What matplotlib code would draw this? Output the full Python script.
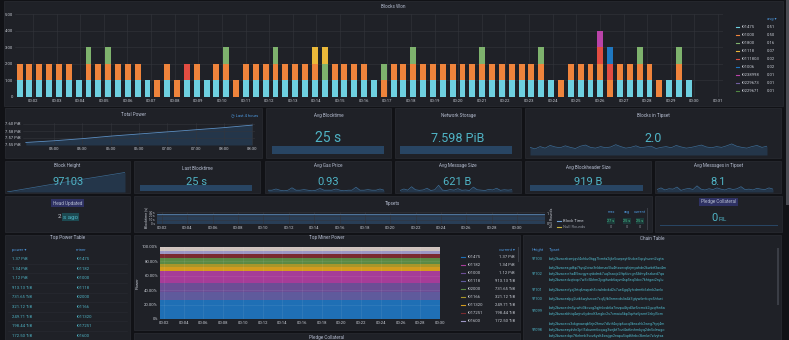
import matplotlib
matplotlib.use("Agg")
import matplotlib.pyplot as plt
from matplotlib.patches import Rectangle

# ---------------- data ----------------
# winners of each epoch in "Blocks Won" (one letter per miner)
blocks_won = ["CO", "CO", "CO", "CO", "CO", "CO", "C", "COG", "CO", "COG",
              "CO", "CO", "CO", "C", "O", "CO", "O", "CR", "CO", "C",
              "CO", "COG", "O", "CO", "CO", "CO", "COG", "CO", "CO", "CO",
              "COY", "CGY", "CO", "CO", "CO", "CO", "C", "OG", "CO",
              "CO", "COG", "CO", "CO", "CO", "CO", "CO", "CO", "COG", "CO",
              "CO", "CO", "CO", "CO", "COG", "C", "O", "CO", "CO", "CO",
              "CORM", "ORB", "CO", "CO", "COG", "CO", "O", "C", "COG", "C"]
first_block_s = 86
block_interval_s = 25
won_colors = {"C": "#6ed0e0", "O": "#ef843c", "R": "#e24d42", "G": "#7eb26d",
              "Y": "#eab839", "B": "#1f78c1", "M": "#ba43a9"}
stack_order = ["C", "O", "R", "G", "Y", "B", "M"]
won_legend_miners = ["t01475", "t01000", "t01800", "t01118", "t0111803",
                     "t01006", "t0238998", "t0229673", "t0229671"]
won_legend_avg = ["0.51", "0.50", "0.16", "0.07", "0.02", "0.02", "0.01", "0.01", "0.01"]
won_legend_colors = ["#6ed0e0", "#ef843c", "#7eb26d", "#eab839", "#e24d42",
                     "#1f78c1", "#ba43a9", "#705da0", "#508642"]

power_hours = [4.5, 5.0, 5.5, 6.0, 6.5, 7.0, 7.5, 8.0, 8.5]
power_pib = [7.556, 7.560, 7.565, 7.571, 7.576, 7.581, 7.586, 7.591, 7.597]

block_height = [96560, 96700, 96840, 96970, 97103]
tipset_blocks = [2.0, 1.6, 2.2, 1.8, 2.5, 2.1, 1.9, 2.4, 2.0, 1.7, 2.3, 2.6, 2.0, 1.8,
                 2.2, 1.9, 2.1, 2.7, 2.2, 1.8, 2.0, 2.4, 1.9, 2.1, 2.3, 1.7, 2.0, 2.2,
                 1.9, 2.5, 2.1, 1.8, 2.0, 2.3, 2.6, 2.1, 1.9, 2.2, 2.0, 2.4, 2.9, 2.3,
                 2.0, 1.8, 2.2, 2.5, 2.0, 2.3]
gas_price = [0.93, 0.93, 0.95, 0.93, 0.92, 0.93, 0.97, 0.93, 0.93, 0.94, 0.93, 0.92,
             0.93, 0.96, 0.93, 0.93, 0.93, 0.95, 0.93, 0.92, 0.93, 0.93, 0.98, 0.93,
             0.93, 0.94, 0.93, 0.93, 0.95, 0.93]
msg_size = [600, 640, 610, 700, 620, 605, 615, 660, 600, 620, 740, 610, 600, 625,
            610, 650, 605, 615, 600, 690, 620, 610, 600, 630, 615, 660, 605, 620,
            610, 621]
msgs_in_tipset = [8.0, 8.4, 7.9, 8.2, 8.1, 8.6, 7.8, 8.1, 8.3, 8.0, 8.9, 8.1, 7.9, 8.2,
                  8.0, 8.4, 8.1, 7.9, 8.3, 8.0, 8.2, 8.7, 8.0, 8.1, 7.9, 8.3, 8.1, 8.0,
                  8.4, 8.1]

tipset_minutes = [1.6, 6, 10, 14, 18, 22, 26, 30, 32.2]
tipset_time_s = [25, 25, 25, 25, 25, 25, 25, 25, 25]
null_rounds = [0, 0, 0, 0, 0, 0, 0, 0, 0]

top_power = ["1.37 PiB", "1.34 PiB", "1.12 PiB", "913.13 TiB", "731.65 TiB",
             "321.12 TiB", "249.71 TiB", "198.44 TiB", "172.50 TiB"]
top_miners = ["t01475", "t01182", "t01000", "t01118", "t02000",
              "t01166", "t011320", "t017251", "t01600"]

# share of each band in "Top Miner Power", bottom to top
band_share = [27, 10, 13, 17, 5, 5, 8, 5, 5, 5]
band_colors = ["#1f6fb5", "#5f5a9c", "#6c4d95", "#a63c98", "#d39b1e",
               "#a8962a", "#5a8a45", "#7a2a2f", "#9d97c4", "#cfc3bd"]
band_minutes = [1.6, 30.0]
miner_legend_colors = ["#1f6fb5", "#a63c98", "#6c4d95", "#5f5a9c", "#5a8a45",
                       "#a8962a", "#d39b1e", "#7a2a2f", "#9d97c4"]

chain_heights = ["97103", "97102", "97101", "97100", "97099", "97098"]
chain_tipsets = [
    ["bafy2bzacebxmjqvl4ohkz3tqg7lvmfa2ijkr5xwpsyt6hdoe3qcyhunm2vgta"],
    ["bafy2bzaceagd6p7hyq2ciwr3nkbmzo5lu4ftxsevq6rjmyahde2kwbtf3ax4m",
     "bafy2bzacecrhz4l5wvgyeqnbdmk7uq3saojx2ftp6ivcgn5lbhry4ezkwd7qa",
     "bafy2bzacedvqtoqv7w3c5lkhm2jxgifunb6ayzr4sp5eq3doc7khtgwi2nylu"],
    ["bafy2bzacecfyxj3rtq6mzpah5oiwlnbvkd2s7ue4gq3yfcdrmtb6zhnk2aelo"],
    ["bafy2bzacealpg2utk6wyhzcoe7xq5jfb3nmrvdslia4k3gtyw6mbqrx5hfuei"],
    ["bafy2bzacedm5yrwht3kcvxg2qjfnlosb6a7iezpu4tyd3w5rcmxk2gvqfhn6a",
     "bafy2bzacebhtq4wjnv6ydeolf3zrgkc2s7xmaiu5bp3qvhz6jwrnt2ekyl5cm"],
    ["bafy2bzacecs3xkgnawqb5rje2hmz7dlvtf4oyip6ucq3bnxshk2weg7tyrj4m",
     "bafy2bzaceaydvhr2ptl5xkunm6oqwg3sejbf7czi4at6rvhmkyq2dn5xlewgo",
     "bafy2bzacedqo7fkrhmb3vcz6yslt4xwjgn2eapu5iqd6hrbc3kmlw7zfvytsa"],
]

# ---------------- style ----------------
W, H = 789, 340
BG = "#111216"
PANEL = "#1f2127"
EDGE = "#2a2c33"
TITLE = "#b4bccf"
TICK = "#c8ccd4"
VALUE = "#4fb4c6"
LINK = "#4c94d8"
GRID = "#33353c"
SPARK_LINE = "#3c6b94"
SPARK_FILL = "#24364a"
GAUGE = "#284563"

plt.rcParams["font.family"] = ["Roboto", "DejaVu Sans"]

fig = plt.figure(figsize=(W / 100, H / 100), dpi=100)
fig.patch.set_facecolor(BG)


def ftext(x, y, s, **kw):
    return fig.text(x / W, 1 - y / H, s, **kw)


def box(x0, y0, x1, y1, color, z=-10, ec="none", lw=0):
    fig.add_artist(Rectangle((x0 / W, 1 - y1 / H), (x1 - x0) / W, (y1 - y0) / H,
                             transform=fig.transFigure, facecolor=color,
                             edgecolor=ec, lw=lw, zorder=z))


def panel(x0, y0, x1, y1, title, ty=None, highlight=False):
    box(x0, y0, x1, y1, PANEL, ec=EDGE, lw=0.5)
    kw = {}
    if highlight:
        kw["bbox"] = dict(boxstyle="square,pad=0.35", fc="#2e3163", ec="none")
    ftext((x0 + x1) / 2, ty if ty else y0 + 7, title, ha="center", va="center",
          fontsize=3.3, color=TITLE, **kw)


def px_axes(x0, y0, x1, y1):
    ax = fig.add_axes([x0 / W, 1 - y1 / H, (x1 - x0) / W, (y1 - y0) / H])
    ax.set_facecolor("none")
    for s in ax.spines.values():
        s.set_visible(False)
    ax.tick_params(colors=TICK, labelsize=3, length=0, pad=1.5)
    return ax


def sparkline(x0, y0, x1, y1, values, lo, hi):
    ax = px_axes(x0, y0, x1, y1)
    xs = list(range(len(values)))
    ax.fill_between(xs, lo, values, color=SPARK_FILL, lw=0)
    ax.plot(xs, values, color=SPARK_LINE, lw=0.5)
    ax.set_xlim(0, len(values) - 1)
    ax.set_ylim(lo, hi)
    ax.axis("off")


def stat(x0, y0, x1, y1, title, value, vy, size):
    panel(x0, y0, x1, y1, title)
    ftext((x0 + x1) / 2, vy, value, ha="center", va="center", fontsize=size, color=VALUE)


# page scrollbar
box(785.5, 0, 788.5, 205, "#4a4c53", z=-5)

# ---------------- Blocks Won ----------------
panel(4, 1, 783, 106, "Blocks Won", ty=6)
ax = px_axes(15, 14, 723, 97)
times = [(first_block_s + i * block_interval_s) / 60 for i in range(len(blocks_won))]
bottoms = [0] * len(blocks_won)
for code in stack_order:
    h = [1 if code in w else 0 for w in blocks_won]
    ax.bar(times, h, width=15 / 60, bottom=bottoms, color=won_colors[code], lw=0, zorder=2)
    bottoms = [b + v for b, v in zip(bottoms, h)]
ax.set_xlim(1.24, 31.21)
ax.set_ylim(0, 5)
ax.set_xticks(range(2, 32))
ax.set_xticklabels([f"00:{m:02d}" for m in range(2, 32)])
ax.set_yticks(range(6))
ax.set_yticklabels(["0", "1.00", "2.00", "3.00", "4.00", "5.00"])
ax.grid(color=GRID, lw=0.4, zorder=0)

ftext(772, 19, "avg \u25be", ha="center", va="center", fontsize=3, color=LINK)
for i, (m, a, c) in enumerate(zip(won_legend_miners, won_legend_avg, won_legend_colors)):
    y = 27 + i * 8
    fig.add_artist(plt.Line2D([735.5 / W, 739 / W], [1 - y / H] * 2, color=c, lw=0.8))
    ftext(741, y, m, ha="left", va="center", fontsize=3, color=TICK)
    ftext(775, y, a, ha="right", va="center", fontsize=3, color=TICK)

# ---------------- row 1 ----------------
panel(5, 108, 262, 158, "Total Power", ty=115)
ftext(258, 115, "\u25f7 Last 4 hours", ha="right", va="center", fontsize=3, color=LINK)
ax = px_axes(23, 123, 255, 145)
ax.fill_between(power_hours, 7.55, power_pib, color=SPARK_FILL, lw=0)
ax.plot(power_hours, power_pib, color="#5b8fc4", lw=0.6)
ax.set_xlim(4.45, 8.55)
ax.set_ylim(7.55, 7.602)
ax.set_xticks([5.0, 5.5, 6.0, 6.5, 7.0, 7.5, 8.0, 8.5])
ax.set_xticklabels(["05:00", "05:30", "06:00", "06:30", "07:00", "07:30", "08:00", "08:30"])
ax.set_yticks([7.55, 7.567, 7.583, 7.60])
ax.set_yticklabels(["7.55 PiB", "7.57 PiB", "7.58 PiB", "7.60 PiB"])
ax.grid(color=GRID, lw=0.4)

stat(266, 108, 391, 158, "Avg Blocktime", "25 s", 138, 10)
box(272, 146, 384, 154, GAUGE, z=-5)
stat(395, 108, 521, 158, "Network Storage", "7.598 PiB", 138, 9)
box(400, 146, 512, 154, GAUGE, z=-5)
stat(525, 108, 781, 158, "Blocks in Tipset", "2.0", 138, 9)
sparkline(530, 142, 767, 155, tipset_blocks, 0, 3.4)

# ---------------- row 2 ----------------
panel(5, 161, 130, 193, "Block Height", ty=165)
sparkline(7, 171, 125, 192, block_height, block_height[0], block_height[-1] + 40)
ftext(68, 182, "97103", ha="center", va="center", fontsize=8, color=VALUE)
stat(134, 161, 260, 193, "Last Blocktime", "25 s", 182, 8)
box(140, 185, 252, 191, GAUGE, z=-5)
panel(265, 161, 391, 193, "Avg Gas Price", ty=165)
sparkline(268, 183, 384, 192, gas_price, 0.90, 1.05)
ftext(328, 182, "0.93", ha="center", va="center", fontsize=8, color=VALUE)
panel(395, 161, 521, 193, "Avg Message Size", ty=165)
sparkline(400, 183, 512, 192, msg_size, 560, 800)
ftext(457, 182, "621 B", ha="center", va="center", fontsize=8, color=VALUE)
stat(525, 161, 651, 193, "Avg Blockheader Size", "919 B", 182, 8)
box(530, 185, 643, 191, GAUGE, z=-5)
panel(655, 161, 781, 193, "Avg Messages in Tipset", ty=165)
sparkline(657, 183, 773, 192, msgs_in_tipset, 7.4, 9.6)
ftext(718, 182, "8.1", ha="center", va="center", fontsize=8, color=VALUE)

# ---------------- row 3 ----------------
panel(5, 196, 130, 232, "Head Updated", ty=203, highlight=True)
ftext(61, 217, "2", ha="right", va="center", fontsize=4.5, color=TICK)
ftext(63, 217, "s ago", ha="left", va="center", fontsize=4.5, color=VALUE,
      bbox=dict(boxstyle="square,pad=0.2", fc="#1d4a52", ec="none"))

panel(134, 196, 652, 232, "Tipsets", ty=203)
ax = px_axes(157, 212, 545, 223.5)
ax.fill_between(tipset_minutes, 0, tipset_time_s, color="#2c4663", alpha=0.8, lw=0)
ax.plot(tipset_minutes, tipset_time_s, color="#6e9fd0", lw=0.4)
ax.set_xlim(1.61, 32.2)
ax.set_ylim(0, 30)
ax.set_xticks(range(2, 31, 2))
ax.set_xticklabels([f"00:{m:02d}" for m in range(2, 31, 2)])
ax.set_yticks([0, 10, 20, 30])
ax.set_yticklabels(["0 s", "10 s", "20 s", "30 s"], fontsize=2.2)
ax.grid(color=GRID, lw=0.4)
ax.set_ylabel("Blocktime (s)", fontsize=2.6, color=TICK, labelpad=1)
ax2 = ax.twinx()
for s in ax2.spines.values():
    s.set_visible(False)
ax2.plot(tipset_minutes, null_rounds, color="#c9b53a", lw=0.6)
ax2.set_ylim(0, 1.2)
ax2.set_yticks([0, 1])
ax2.tick_params(colors=TICK, labelsize=2.6, length=0, pad=1)
ax2.set_ylabel("Null Rounds", fontsize=2.6, color=TICK, labelpad=1)

for x, lab in [(611, "max"), (627, "avg"), (640, "current")]:
    ftext(x, 212, lab, ha="center", va="center", fontsize=2.8, color=LINK)
fig.add_artist(plt.Line2D([557 / W, 561 / W], [1 - 221 / H] * 2, color="#6e9fd0", lw=0.8))
ftext(563, 221, "Block Time", ha="left", va="center", fontsize=3, color=TICK)
for x, v in [(611, "27 s"), (627, "25 s"), (640, "25 s")]:
    ftext(x, 221, v, ha="center", va="center", fontsize=2.8, color="#49c08a",
          bbox=dict(boxstyle="square,pad=0.2", fc="#1c3b3a", ec="none"))
fig.add_artist(plt.Line2D([557 / W, 561 / W], [1 - 227 / H] * 2, color="#c9b53a", lw=0.8))
ftext(563, 227, "Null Rounds", ha="left", va="center", fontsize=3, color="#8a8f99")
for x in [611, 627, 640]:
    ftext(x, 227, "0", ha="center", va="center", fontsize=2.8, color="#8a8f99")
box(646.5, 208, 648, 230, "#3a3d45", z=-5)

panel(655, 196, 782, 232, "Pledge Collateral", ty=202, highlight=True)
ftext(718, 218, "0", ha="right", va="center", fontsize=8, color=VALUE)
ftext(718.5, 219.5, "FIL", ha="left", va="center", fontsize=4.5, color=VALUE)
box(660, 224.5, 778, 225.5, GAUGE, z=-5)

# ---------------- row 4 ----------------
panel(5, 235, 130, 345, "Top Power Table", ty=238)
ftext(12, 250, "power \u25be", ha="left", va="center", fontsize=3, color=LINK)
ftext(76, 250, "miner", ha="left", va="center", fontsize=3, color=LINK)
for i, (p, m) in enumerate(zip(top_power, top_miners)):
    y = 259 + i * 9.6
    ftext(12, y, p, ha="left", va="center", fontsize=3, color=VALUE)
    ftext(76, y, m, ha="left", va="center", fontsize=3, color=VALUE)
    fig.add_artist(plt.Line2D([8 / W, 127 / W], [1 - (y + 4.8) / H] * 2, color="#292b32", lw=0.4))

panel(134, 235, 520, 330, "Top Miner Power", ty=238)
ax = px_axes(160, 247, 440, 319)
ax.stackplot(band_minutes, *[[v, v] for v in band_share], colors=band_colors, lw=0)
ax.set_xlim(1.6, 30.0)
ax.set_ylim(0, 100)
ax.set_xticks(range(2, 31, 2))
ax.set_xticklabels([f"00:{m:02d}" for m in range(2, 31, 2)])
ax.set_yticks([0, 20, 40, 60, 80, 100])
ax.set_yticklabels(["0%", "20.00%", "40.00%", "60.00%", "80.00%", "100.00%"])
ax.grid(color="#ffffff", alpha=0.12, lw=0.4)
ax.set_ylabel("Power", fontsize=3, color=TICK, labelpad=2)
ftext(507, 250, "current \u25be", ha="center", va="center", fontsize=3, color=LINK)
for i, (m, p, c) in enumerate(zip(top_miners, top_power, miner_legend_colors)):
    y = 257 + i * 8
    fig.add_artist(plt.Line2D([461 / W, 465 / W], [1 - y / H] * 2, color=c, lw=0.8))
    ftext(467, y, m, ha="left", va="center", fontsize=3, color=TICK)
    ftext(515, y, p, ha="right", va="center", fontsize=3, color=TICK)
box(517.5, 247, 519, 262, "#3a3d45", z=-5)

panel(134, 333, 520, 350, "Pledge Collateral", ty=338)

panel(523, 235, 781, 345, "Chain Table", ty=238)
ftext(532, 250, "Height", ha="left", va="center", fontsize=3, color=LINK)
ftext(549, 250, "Tipset", ha="left", va="center", fontsize=3, color=LINK)
row_y = [259, 274, 290, 299, 311, 330]
for hgt, cids, y in zip(chain_heights, chain_tipsets, row_y):
    ftext(532, y, hgt, ha="left", va="center", fontsize=2.8, color=VALUE)
    n = len(cids)
    for j, cid in enumerate(cids):
        ftext(549, y + (j - (n - 1) / 2) * 6, cid, ha="left", va="center",
              fontsize=2.6, color=VALUE)
box(777, 248, 778.5, 305, "#3a3d45", z=-5)

fig.savefig("out.png", dpi=100, facecolor=BG)
